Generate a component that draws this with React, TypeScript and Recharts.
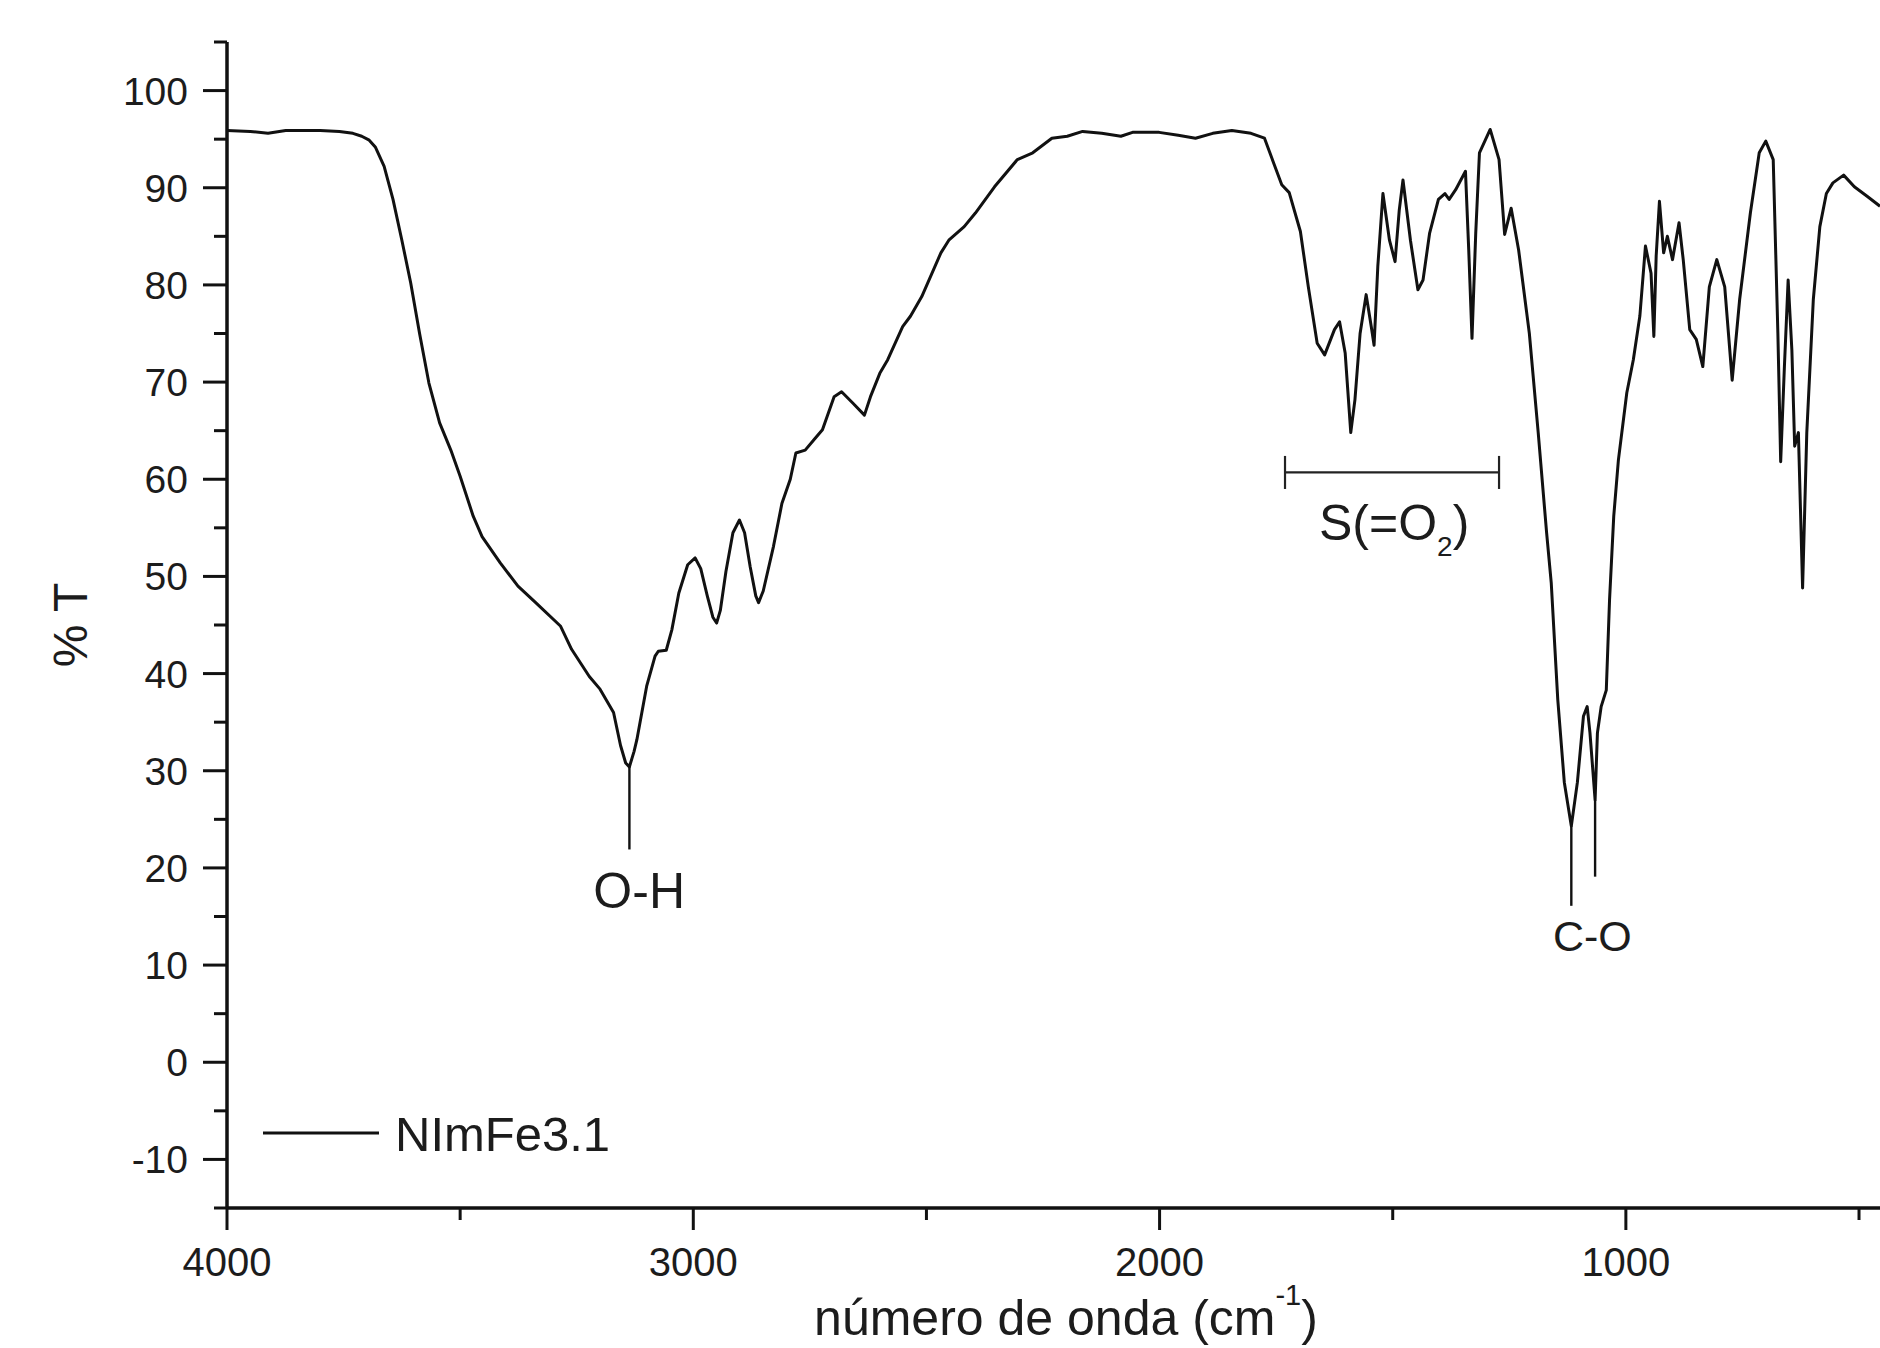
import React from 'react';
import { LineChart, Line, XAxis, YAxis, ReferenceLine, ReferenceDot, Legend, Label } from 'recharts';

// ---- data ----
const wavenumbers = [
  4000, 3950, 3912, 3874, 3800, 3759, 3730, 3711, 3695, 3682, 3663, 3644, 3625, 3606, 3587, 3567,
  3544, 3520, 3500, 3472, 3453, 3414, 3376, 3338, 3285, 3261, 3223, 3200, 3171, 3156, 3145, 3137,
  3127, 3121, 3100, 3082, 3075, 3058, 3046, 3031, 3012, 2996, 2984, 2970, 2958, 2950, 2942, 2930,
  2915, 2901, 2890, 2878, 2866, 2860, 2850, 2828, 2810, 2792, 2780, 2760, 2739, 2723, 2698, 2682,
  2657, 2633, 2620, 2600, 2583, 2551, 2534, 2510, 2469, 2452, 2419, 2395, 2354, 2305, 2272, 2231,
  2198, 2165, 2124, 2083, 2058, 2001, 1960, 1923, 1886, 1845, 1804, 1775, 1755, 1738, 1722, 1698,
  1681, 1662, 1646, 1625, 1614, 1602, 1590, 1581, 1570, 1557, 1546, 1540, 1532, 1521, 1507, 1495,
  1486, 1478, 1462, 1446, 1435, 1421, 1402, 1388, 1379, 1365, 1344, 1337, 1330, 1322, 1314, 1291,
  1272, 1260, 1246, 1230, 1207, 1188, 1170, 1160, 1146, 1132, 1117, 1104, 1091, 1083, 1077, 1066,
  1061, 1053, 1042, 1035, 1026, 1016, 998, 984, 970, 958, 946, 940, 935, 928, 919, 911,
  900, 886, 877, 863, 849, 835, 821, 805, 788, 772, 756, 733, 714, 700, 684, 674,
  668, 660, 652, 644, 638, 630, 621, 612, 598, 584, 570, 556, 533, 510, 482, 455,
];
const transmittance = [
  95.9, 95.8, 95.6, 95.9, 95.9, 95.8, 95.6, 95.3, 94.9, 94.2, 92.2, 88.8, 84.6, 80.2, 75.0, 69.9,
  65.8, 63.0, 60.3, 56.2, 54.1, 51.4, 49.0, 47.3, 44.9, 42.5, 39.7, 38.4, 36.0, 32.6, 30.8, 30.4,
  32.0, 33.2, 38.7, 41.8, 42.3, 42.4, 44.5, 48.3, 51.2, 51.9, 50.8, 48.0, 45.8, 45.2, 46.5, 50.5,
  54.5, 55.8, 54.5, 51.0, 48.0, 47.3, 48.5, 53.1, 57.5, 60.0, 62.7, 63.0, 64.2, 65.1, 68.5, 69.0,
  67.8, 66.6, 68.5, 70.9, 72.3, 75.7, 76.8, 78.8, 83.3, 84.6, 86.0, 87.4, 90.1, 92.9, 93.6, 95.1,
  95.3, 95.8, 95.6, 95.3, 95.7, 95.7, 95.4, 95.1, 95.6, 95.9, 95.6, 95.1, 92.5, 90.3, 89.5, 85.5,
  79.8, 74.0, 72.8, 75.4, 76.2, 73.0, 64.8, 68.2, 75.0, 79.0, 75.7, 73.8, 81.9, 89.4, 84.6, 82.4,
  87.7, 90.8, 84.6, 79.5, 80.5, 85.3, 88.8, 89.4, 88.8, 89.8, 91.7, 83.6, 74.5, 85.3, 93.6, 96.0,
  92.9, 85.2, 87.9, 83.6, 75.0, 64.8, 54.5, 49.3, 37.3, 28.8, 24.3, 28.8, 35.6, 36.6, 33.9, 27.0,
  33.9, 36.6, 38.3, 47.6, 56.2, 62.0, 68.9, 72.3, 76.8, 84.0, 81.2, 74.7, 83.0, 88.6, 83.3, 85.0,
  82.6, 86.4, 82.6, 75.4, 74.4, 71.6, 79.8, 82.6, 79.8, 70.2, 78.5, 87.4, 93.6, 94.8, 92.9, 75.0,
  61.8, 71.6, 80.5, 73.3, 63.4, 64.8, 48.8, 64.8, 78.5, 86.0, 89.4, 90.5, 91.3, 90.1, 89.1, 88.1,
];
const seriesName = 'NImFe3.1';

const xDomain = [455, 4000];
const xTicks = [4000, 3500, 3000, 2500, 2000, 1500, 1000, 500];
const xLabeledTicks = [4000, 3000, 2000, 1000];
const yDomain = [-15, 105];
const yTicks = [-15, -10, -5, 0, 5, 10, 15, 20, 25, 30, 35, 40, 45, 50, 55, 60, 65, 70, 75, 80, 85, 90, 95, 100, 105];

// annotation anchors (data coordinates)
const ohMark = { w: 3137, top: 30.4, bottom: 21.9, labelW: 3116, labelT: 15.9, text: 'O-H' };
const coMarks = [
  { w: 1117, top: 24.3, bottom: 16.1 },
  { w: 1066, top: 27.0, bottom: 19.1 },
];
const coLabel = { w: 1072, t: 11.5, text: 'C-O' };
const soBracket = { from: 1731, to: 1272, t: 60.7, cap: 1.7 };
const soLabel = { w: 1497, t: 53.7 };

const data = wavenumbers.map((w, i) => ({ w, t: transmittance[i] }));

const FONT = '"Liberation Sans", Arial, Helvetica, sans-serif';
const INK = '#111';
const TEXT = '#1c1c1c';

const YTick = (props: any) => {
  const { x, y, payload } = props;
  const v = payload.value;
  const major = v % 10 === 0;
  const len = major ? 24 : 13;
  return (
    <g>
      <line x1={x - len} x2={x} y1={y} y2={y} stroke={INK} strokeWidth={3} />
      {major && (
        <text x={x - 39} y={y + 14} textAnchor="end" fontSize={39} fill={TEXT} fontFamily={FONT}>
          {v}
        </text>
      )}
    </g>
  );
};

const XTick = (props: any) => {
  const { x, y, payload } = props;
  const v = payload.value;
  const major = xLabeledTicks.includes(v);
  const len = major ? 22 : 12;
  return (
    <g>
      <line x1={x} x2={x} y1={y} y2={y + len} stroke={INK} strokeWidth={3} />
      {major && (
        <text x={x} y={y + 68} textAnchor="middle" fontSize={40} fill={TEXT} fontFamily={FONT}>
          {v}
        </text>
      )}
    </g>
  );
};

const XAxisTitle = (props: any) => {
  const vb = props.viewBox;
  const cx = vb.x + 839;
  const by = vb.y + 127;
  return (
    <text x={cx} y={by} textAnchor="middle" fontSize={50} fill={TEXT} fontFamily={FONT}>
      <tspan>número de onda (cm</tspan>
      <tspan fontSize={29} dy={-30}>-1</tspan>
      <tspan dy={30}>)</tspan>
    </text>
  );
};

const YAxisTitle = (props: any) => {
  const vb = props.viewBox;
  const x = vb.x + 87;
  const y = vb.y + vb.height / 2;
  return (
    <text x={x} y={y} transform={`rotate(-90, ${x}, ${y})`} textAnchor="middle" fontSize={48} fill={TEXT} fontFamily={FONT}>
      % T
    </text>
  );
};

const textShape = (txt: string, size: number) => (p: any) => (
  <text x={p.cx} y={p.cy} textAnchor="middle" fontSize={size} fill={TEXT} fontFamily={FONT}>
    {txt}
  </text>
);

const soShape = (p: any) => (
  <text x={p.cx} y={p.cy} textAnchor="middle" fontSize={50} fill={TEXT} fontFamily={FONT}>
    <tspan>S(=O</tspan>
    <tspan fontSize={28} dy={16}>2</tspan>
    <tspan dy={-16}>)</tspan>
  </text>
);

const LegendContent = (props: any) => {
  const name = props.payload && props.payload[0] ? props.payload[0].value : seriesName;
  return (
    <svg width={400} height={60} style={{ display: 'block' }}>
      <line x1={0} x2={116} y1={25} y2={25} stroke={INK} strokeWidth={3} />
      <text x={132} y={43} fontSize={49} fill={TEXT} fontFamily={FONT}>{name}</text>
    </svg>
  );
};

export default function App() {
  return (
    <div style={{ position: 'absolute', left: 0, top: 0, width: 1880, height: 1348, background: '#fff', overflow: 'hidden' }}>
      <LineChart width={1880} height={1348} data={data} margin={{ top: 42, right: 0, bottom: 0, left: 0 }}>
        <XAxis
          dataKey="w"
          type="number"
          domain={xDomain}
          reversed
          allowDataOverflow
          ticks={xTicks}
          interval={0}
          tick={<XTick />}
          tickLine={false}
          tickSize={0}
          tickMargin={0}
          height={140}
          axisLine={{ stroke: INK, strokeWidth: 3.5 }}
        >
          <Label content={<XAxisTitle />} />
        </XAxis>
        <YAxis
          type="number"
          domain={yDomain}
          allowDataOverflow
          ticks={yTicks}
          interval={0}
          tick={<YTick />}
          tickLine={false}
          tickSize={0}
          tickMargin={0}
          width={227}
          axisLine={{ stroke: INK, strokeWidth: 3.5 }}
        >
          <Label content={<YAxisTitle />} />
        </YAxis>
        <Legend
          layout="vertical"
          align="center"
          verticalAlign="middle"
          wrapperStyle={{ left: 263, top: 1108, width: 400, height: 60 }}
          content={<LegendContent />}
        />
        <Line
          type="linear"
          dataKey="t"
          name={seriesName}
          stroke={INK}
          strokeWidth={3}
          strokeLinejoin="round"
          dot={false}
          activeDot={false}
          isAnimationActive={false}
        />
        <ReferenceLine segment={[{ x: ohMark.w, y: ohMark.top }, { x: ohMark.w, y: ohMark.bottom }]} stroke={INK} strokeWidth={2.4} />
        {coMarks.map((m, i) => (
          <ReferenceLine key={i} segment={[{ x: m.w, y: m.top }, { x: m.w, y: m.bottom }]} stroke={INK} strokeWidth={2.4} />
        ))}
        <ReferenceLine segment={[{ x: soBracket.from, y: soBracket.t }, { x: soBracket.to, y: soBracket.t }]} stroke="#222" strokeWidth={2.2} />
        <ReferenceLine segment={[{ x: soBracket.from, y: soBracket.t - soBracket.cap }, { x: soBracket.from, y: soBracket.t + soBracket.cap }]} stroke="#222" strokeWidth={2.2} />
        <ReferenceLine segment={[{ x: soBracket.to, y: soBracket.t - soBracket.cap }, { x: soBracket.to, y: soBracket.t + soBracket.cap }]} stroke="#222" strokeWidth={2.2} />
        <ReferenceDot x={ohMark.labelW} y={ohMark.labelT} r={0} shape={textShape(ohMark.text, 50)} />
        <ReferenceDot x={coLabel.w} y={coLabel.t} r={0} shape={textShape(coLabel.text, 43)} />
        <ReferenceDot x={soLabel.w} y={soLabel.t} r={0} shape={soShape} />
      </LineChart>
    </div>
  );
}
